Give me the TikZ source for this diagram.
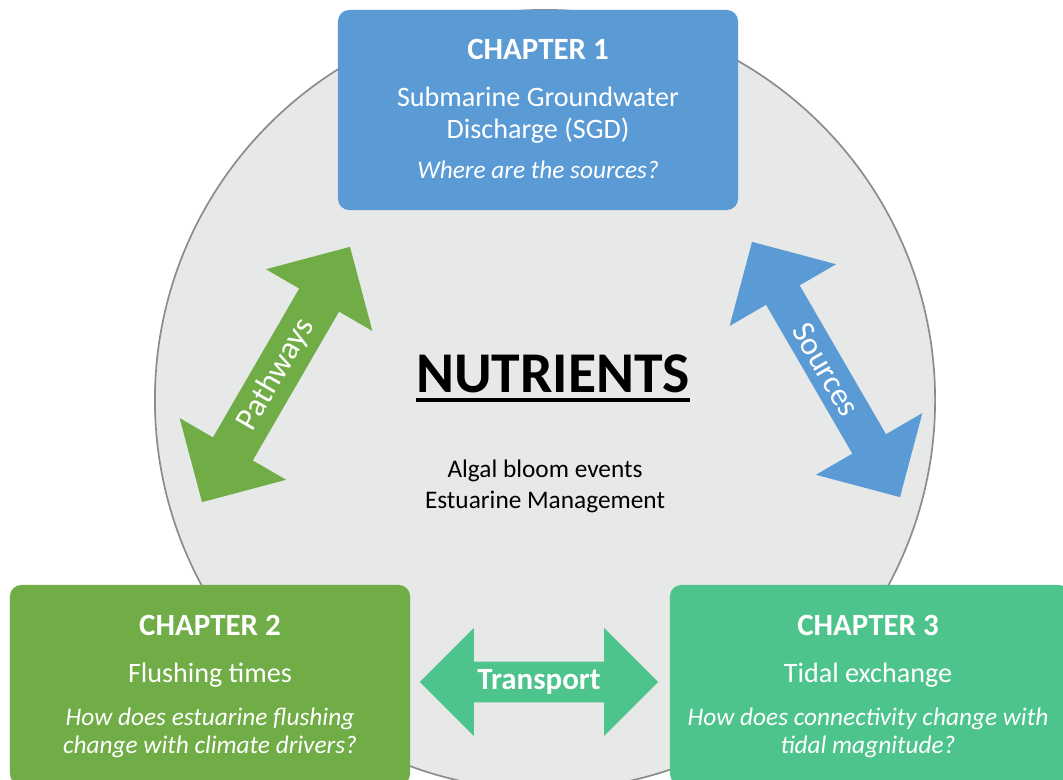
\documentclass[tikz,border=0pt]{standalone}
\usepackage{fontspec}
\setmainfont{Carlito}
\usepackage{xcolor}
\usetikzlibrary{shapes.arrows,positioning}

\definecolor{chblue}{HTML}{5B9BD5}
\definecolor{chgreen}{HTML}{70AD47}
\definecolor{chteal}{HTML}{4EC48D}
\definecolor{hubgrey}{HTML}{E7E8E8}

\begin{document}
\begin{tikzpicture}[
    x=0.025cm, y=-0.025cm,
    chbox/.style={rectangle, rounded corners=8pt, minimum width=10cm, minimum height=5cm, inner sep=0pt},
    chtitle/.style={anchor=base, inner sep=0pt, text=white, font=\fontsize{22}{26}\selectfont\bfseries},
    chbody/.style={anchor=base, inner sep=0pt, text=white, align=center, font=\fontsize{20}{23.4}\selectfont},
    chquest/.style={anchor=base, inner sep=0pt, text=white, align=center, font=\fontsize{18}{19.5}\selectfont\itshape},
    fatarrow/.style={double arrow, double arrow head extend=0.59cm, minimum width=3.075cm, minimum height=7.375cm, inner sep=0pt, text=white, font=\fontsize{23}{26}\selectfont},
]
\useasboundingbox[fill=white] (0,0) rectangle (1063,780);

% === HUB ===
\node[circle, fill=hubgrey, draw=black!45, line width=1.2pt, minimum size=19.5cm] (hub) at (545,400) {};
\node[anchor=base, inner sep=0pt, font=\fontsize{41}{46}\selectfont\bfseries] (nutr) at (553,392) {NUTRIENTS};
\draw[line width=2.8pt] ([yshift=-6pt]nutr.base west) -- ([yshift=-6pt]nutr.base east);
\node[anchor=base, inner sep=0pt, align=center, font=\fontsize{18}{22}\selectfont] (impact) at (545,508) {Algal bloom events\\Estuarine Management};

% === CHAPTERS ===
\node[chbox, fill=chblue] (ch1) at (538,110) {};
\node[chtitle] (ch1head) at (538,60) {CHAPTER 1};
\node[chbody] (ch1sub) at (538,139) {Submarine Groundwater\\Discharge (SGD)};
\node[chquest] (ch1q) at (538,179) {Where are the sources?};

\node[chbox, fill=chgreen] (ch2) at (210,685) {};
\node[chtitle] (ch2head) at (210,635) {CHAPTER 2};
\node[chbody] (ch2sub) at (210,682) {Flushing times};
\node[chquest] (ch2q) at (210,753) {How does estuarine flushing\\change with climate drivers?};

\node[chbox, fill=chteal] (ch3) at (870,685) {};
\node[chtitle] (ch3head) at (868,635) {CHAPTER 3};
\node[chbody] (ch3sub) at (868,682) {Tidal exchange};
\node[chquest] (ch3q) at (868,753) {How does connectivity change with\\tidal magnitude?};

% === LINKS ===
\node[fatarrow, fill=chgreen, rotate=59.9] (pathways) at (276,374.5) {Pathways};
\node[fatarrow, fill=chblue, rotate=-59.9] (sources) at (826,369.5) {Sources};
\node[fatarrow, fill=chteal, double arrow head extend=0.525cm, minimum width=2.7cm, minimum height=5.95cm, font=\fontsize{22}{26}\selectfont\bfseries] (transport) at (539,682) {Transport};

\end{tikzpicture}
\end{document}
